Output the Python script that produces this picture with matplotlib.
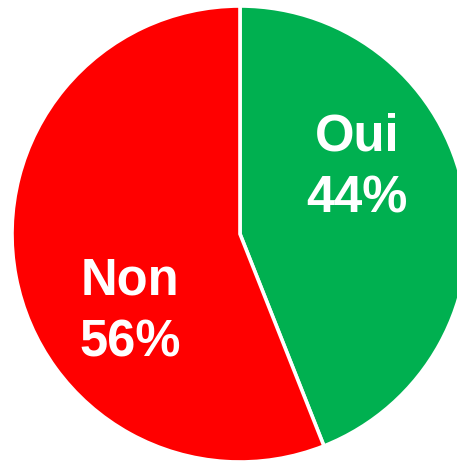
import matplotlib
matplotlib.use("Agg")
import matplotlib.pyplot as plt

categories = ["Oui", "Non"]
values = [44, 56]
colors = ["#00B050", "#FF0000"]
pct_labels = ["44%", "56%"]

W, H = 457, 462
fig = plt.figure(figsize=(W / 100, H / 100), dpi=100)
ax = fig.add_axes([0, 0, 1, 1])

ax.pie(values, colors=colors, startangle=90, counterclock=False,
       center=(240, 228), radius=228,
       wedgeprops=dict(edgecolor="white", linewidth=2.6))
ax.set_xlim(0, W)
ax.set_ylim(0, H)
ax.set_aspect("auto")
ax.axis("off")

label_pos = {"Oui": (357, 294), "Non": (130, 150)}
for cat, pct in zip(categories, pct_labels):
    x, y = label_pos[cat]
    ax.text(x, y, f"{cat}\n{pct}", ha="center", va="center", color="white",
            fontsize=36.5, fontweight="bold", family="Liberation Sans",
            linespacing=1.33)

fig.savefig("out.png", dpi=100)
